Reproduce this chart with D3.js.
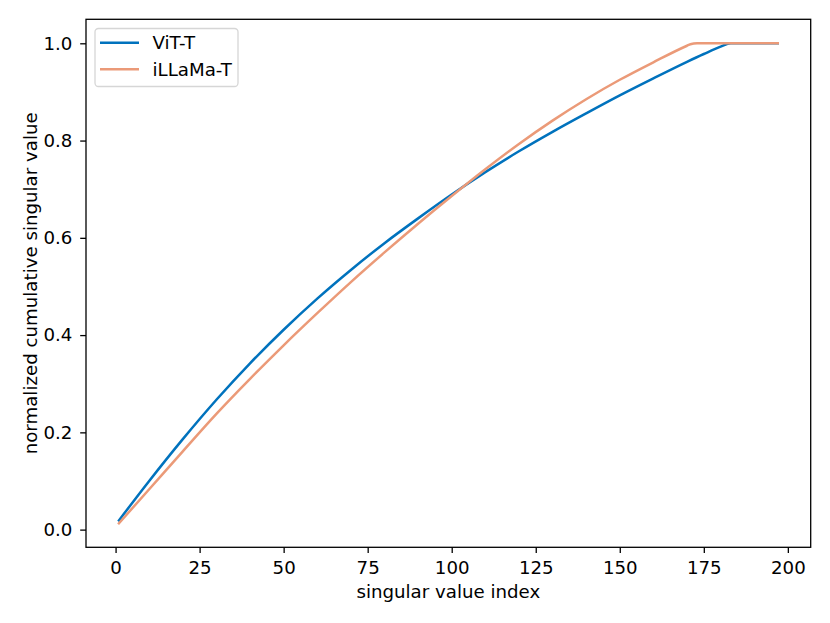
<!DOCTYPE html>
<html>
<head>
<meta charset="utf-8">
<script src="https://cdn.jsdelivr.net/npm/d3@7"></script>
<style>
  body { margin: 0; background: #fff; }
  svg text { font-family: "DejaVu Sans", sans-serif; fill: #000; }
</style>
</head>
<body>
<div id="chart"></div>
<script>
// Cumulative singular value plot
const width = 830;
const height = 623;
const margin = { top: 19.3, right: 19.3, bottom: 75.7, left: 86 };

// x positions (singular value index) the curves were read at
const vitIndex = [1, 10, 20, 30, 40, 50, 60, 70, 80, 90, 100, 110, 120, 130, 140, 150, 160, 170, 175, 180, 183, 190, 197];
const vitValues = [0.019, 0.100, 0.186, 0.267, 0.342, 0.411, 0.475, 0.534, 0.589, 0.640, 0.689, 0.735, 0.778, 0.818, 0.856, 0.893, 0.928, 0.962, 0.978, 0.993, 1.0, 1.0, 1.0];

const llamaIndex = [1, 10, 20, 30, 40, 50, 60, 70, 80, 90, 100, 110, 120, 130, 140, 150, 160, 170, 171, 173, 180, 190, 197];
const llamaValues = [0.013, 0.083, 0.161, 0.238, 0.310, 0.379, 0.445, 0.509, 0.570, 0.629, 0.686, 0.741, 0.793, 0.841, 0.885, 0.925, 0.961, 0.995, 0.998, 1.0, 1.0, 1.0, 1.0];

const seriesNames = ["ViT-T", "iLLaMa-T"];
const seriesColors = ["#0072bd", "#eb9a78"];

const xTicks = [0, 25, 50, 75, 100, 125, 150, 175, 200];
const yTicks = [0.0, 0.2, 0.4, 0.6, 0.8, 1.0];

const series = [
    { name: seriesNames[0], color: seriesColors[0], points: vitIndex.map((x, i) => [x, vitValues[i]]) },
    { name: seriesNames[1], color: seriesColors[1], points: llamaIndex.map((x, i) => [x, llamaValues[i]]) },
];

const svg = d3.select("#chart").append("svg")
    .attr("width", width)
    .attr("height", height);

// matplotlib style 5% padding around the data
const xMin = 1, xMax = 197;
const yMin = d3.min(llamaValues.concat(vitValues)), yMax = 1.0;
const xPad = (xMax - xMin) * 0.05, yPad = (yMax - yMin) * 0.05;

const x = d3.scaleLinear()
    .domain([xMin - xPad, xMax + xPad])
    .range([margin.left, width - margin.right]);

const y = d3.scaleLinear()
    .domain([yMin - yPad, yMax + yPad])
    .range([height - margin.bottom, margin.top]);

const fontSize = 18.2;

// x axis
const xAxis = svg.append("g")
    .attr("transform", `translate(0,${height - margin.bottom})`)
    .call(d3.axisBottom(x).tickValues(xTicks).tickSize(5.8).tickPadding(8).tickFormat(d3.format("d")));
xAxis.select(".domain").remove();
xAxis.selectAll("line").attr("stroke", "#000").attr("stroke-width", 1.3);
xAxis.selectAll("text").attr("font-size", fontSize).attr("font-family", "DejaVu Sans");

// y axis
const yAxis = svg.append("g")
    .attr("transform", `translate(${margin.left},0)`)
    .call(d3.axisLeft(y).tickValues(yTicks).tickSize(5.8).tickPadding(7.9).tickFormat(d3.format(".1f")));
yAxis.select(".domain").remove();
yAxis.selectAll("line").attr("stroke", "#000").attr("stroke-width", 1.3);
yAxis.selectAll("text").attr("font-size", fontSize).attr("font-family", "DejaVu Sans");

// lines
const line = d3.line()
    .x(d => x(d[0]))
    .y(d => y(d[1]))
    .curve(d3.curveMonotoneX);

svg.append("g").selectAll("path")
    .data(series)
    .join("path")
    .attr("fill", "none")
    .attr("stroke", d => d.color)
    .attr("stroke-width", 2.5)
    .attr("stroke-linecap", "square")
    .attr("d", d => line(d.points));

// frame
svg.append("rect")
    .attr("x", margin.left)
    .attr("y", margin.top)
    .attr("width", width - margin.left - margin.right)
    .attr("height", height - margin.top - margin.bottom)
    .attr("fill", "none")
    .attr("stroke", "#000")
    .attr("stroke-width", 1.3);

// axis labels
svg.append("text")
    .attr("x", (margin.left + width - margin.right) / 2)
    .attr("y", 598)
    .attr("text-anchor", "middle")
    .attr("font-size", fontSize)
    .text("singular value index");

svg.append("text")
    .attr("transform", `translate(37,${(margin.top + height - margin.bottom) / 2}) rotate(-90)`)
    .attr("text-anchor", "middle")
    .attr("font-size", fontSize)
    .text("normalized cumulative singular value");

// legend
const legend = svg.append("g");
legend.append("rect")
    .attr("x", 95)
    .attr("y", 28.5)
    .attr("width", 143)
    .attr("height", 58)
    .attr("rx", 3.5)
    .attr("fill", "#fff")
    .attr("fill-opacity", 0.8)
    .attr("stroke", "#d6d6d6")
    .attr("stroke-width", 1.3);

const items = legend.selectAll("g.item")
    .data(series)
    .join("g")
    .attr("class", "item")
    .attr("transform", (d, i) => `translate(0,${42.7 + i * 26.5})`);

items.append("line")
    .attr("x1", 100).attr("x2", 139)
    .attr("stroke", d => d.color)
    .attr("stroke-width", 2.5);

items.append("text")
    .attr("x", 152.5)
    .attr("dy", "0.36em")
    .attr("font-size", fontSize)
    .text(d => d.name);
</script>
</body>
</html>
